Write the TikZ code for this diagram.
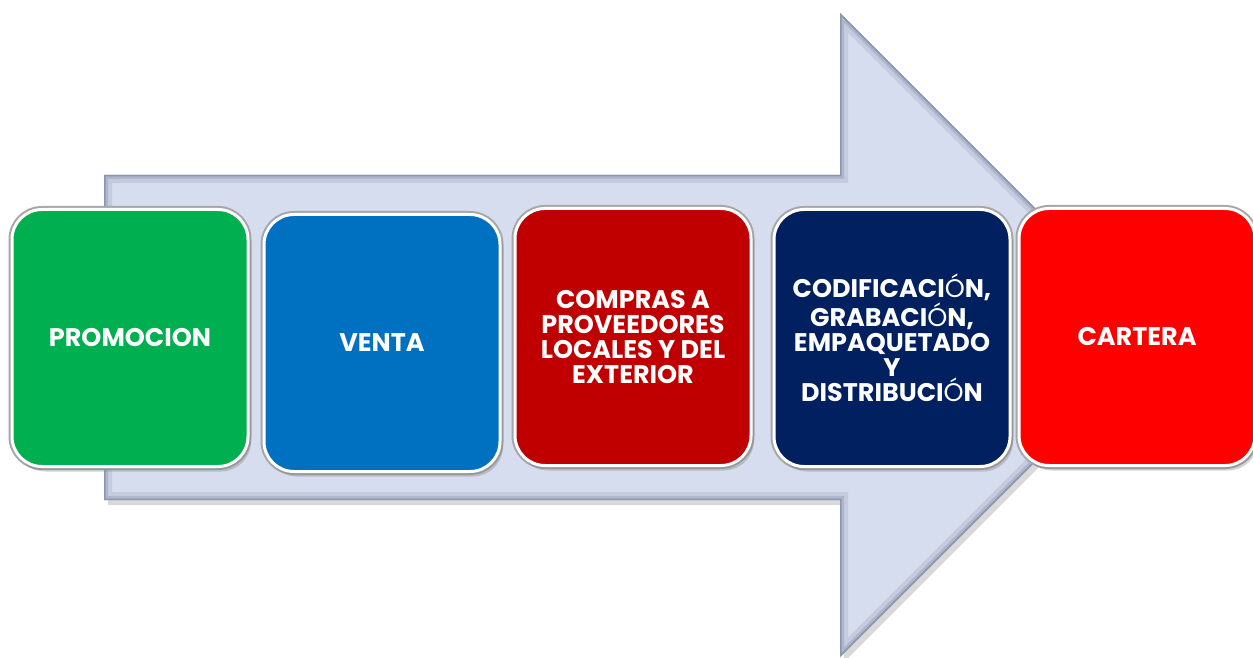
\documentclass[tikz,border=0pt]{standalone}
\usepackage{fontspec}
\setmainfont{Poppins}
\usetikzlibrary{shadows}
\newlength{\du}
\setlength{\du}{0.02cm}
\definecolor{arrowfill}{rgb}{0.839216, 0.866667, 0.937255}
\definecolor{arrowedge}{rgb}{0.552941, 0.588235, 0.678431}
\definecolor{promocolor}{rgb}{0.000000, 0.690196, 0.313725}
\definecolor{ventacolor}{rgb}{0.000000, 0.439216, 0.752941}
\definecolor{comprascolor}{rgb}{0.752941, 0.000000, 0.000000}
\definecolor{codifcolor}{rgb}{0.000000, 0.125490, 0.376471}
\definecolor{carteracolor}{rgb}{1.000000, 0.000000, 0.000000}
\tikzset{
  stagebox/.style={rounded corners=30\du, minimum width=236\du, minimum height=257\du,
    inner sep=0pt, text=white, align=center, line width=3\du, draw=white,
    font=\bfseries\fontsize{14.5}{14.3}\selectfont,
    preaction={draw=black!35, line width=7\du},
    drop shadow={opacity=0.35, shadow xshift=3\du, shadow yshift=-5\du}}
}
\newcommand{\thinO}{{\mdseries Ó}}

\begin{document}
\begin{tikzpicture}
\pgftransformxscale{1.000000}
\pgftransformyscale{-1.000000}
\useasboundingbox (0\du,0\du) rectangle (1253\du,658\du);
% big arrow
\fill[arrowfill, drop shadow={opacity=0.3, shadow xshift=4\du, shadow yshift=-5\du}]
  (104\du,175\du)--(840\du,175\du)--(840\du,13\du)--(1162\du,335\du)--(840\du,657\du)--(840\du,500\du)--(104\du,500\du)--cycle;
\begin{scope}
\clip (104\du,175\du)--(840\du,175\du)--(840\du,13\du)--(1162\du,335\du)--(840\du,657\du)--(840\du,500\du)--(104\du,500\du)--cycle;
\draw[arrowedge!25!arrowfill, line width=16\du]
  (104\du,175\du)--(840\du,175\du)--(840\du,13\du)--(1162\du,335\du)--(840\du,657\du)--(840\du,500\du)--(104\du,500\du)--cycle;
\draw[arrowedge!55!arrowfill, line width=8\du]
  (104\du,175\du)--(840\du,175\du)--(840\du,13\du)--(1162\du,335\du)--(840\du,657\du)--(840\du,500\du)--(104\du,500\du)--cycle;
\draw[arrowedge, line width=3\du]
  (104\du,175\du)--(840\du,175\du)--(840\du,13\du)--(1162\du,335\du)--(840\du,657\du)--(840\du,500\du)--(104\du,500\du)--cycle;
\end{scope}
% stages
\node[stagebox, fill=promocolor] (promocion) at (130\du,338\du) {PROMOCION};
\node[stagebox, fill=ventacolor] (venta) at (382\du,343\du) {VENTA};
\node[stagebox, fill=comprascolor] (compras) at (633\du,337\du) {COMPRAS A\\PROVEEDORES\\LOCALES Y DEL\\EXTERIOR};
\node[stagebox, fill=codifcolor] (codificacion) at (892\du,338\du) {CODIFICACI\thinO N,\\GRABACI\thinO N,\\EMPAQUETADO\\Y\\DISTRIBUCI\thinO N};
\node[stagebox, fill=carteracolor] (cartera) at (1137\du,337\du) {CARTERA};
\end{tikzpicture}
\end{document}
